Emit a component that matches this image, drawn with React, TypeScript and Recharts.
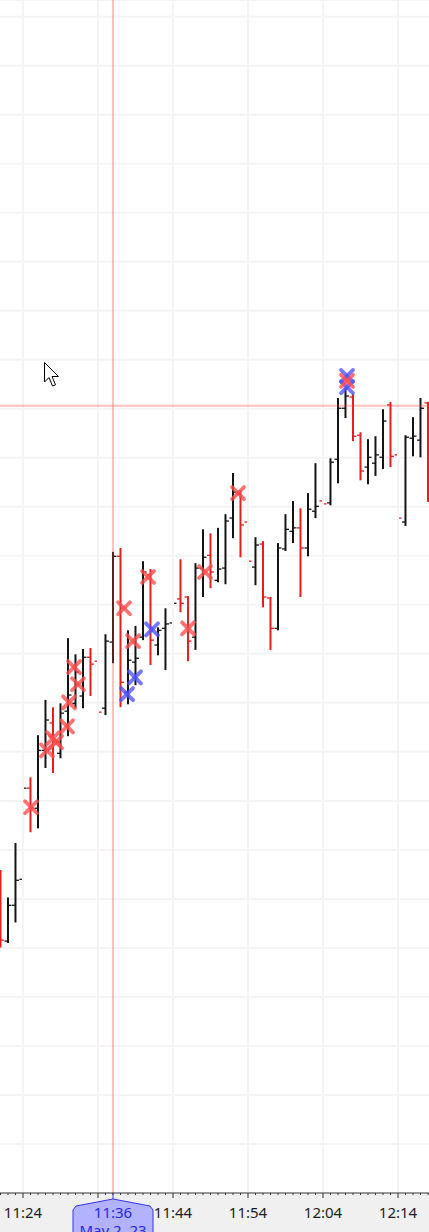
import React from 'react'
import { ComposedChart, Bar, Scatter, XAxis, YAxis, CartesianGrid, ReferenceLine } from 'recharts'

// minutes after 11:00, one bar per minute
const minutes = [
  21, 22, 23, 24, 25, 26, 27, 28, 29, 30, 31, 32, 33, 34, 35, 36, 37, 38, 39, 40,
  41, 42, 43, 44, 45, 46, 47, 48, 49, 50, 51, 52, 53, 54, 55, 56, 57, 58, 59, 60,
  61, 62, 63, 64, 65, 66, 67, 68, 69, 70, 71, 72, 73, 74, 75, 76, 77, 78,
]

const opens = [
  4156.48, 4155.14, 4155.87, 4156.4, 4158.26, 4157.85, 4159.03, 4159.59, 4158.97, 4159.83,
  4159.99, 4160.14, 4160.93, 4160.85, 4159.89, 4161.24, 4162.99, 4160.22, 4160.83, 4161.34,
  4162.61, 4161.18, 4161.52, 4161.63, 4162.12, 4162.16, 4161.34, 4162.75, 4163.01, 4162.5,
  4162.75, 4163.77, 4164.26, 4163.69, 4162.77, 4163.24, 4162.14, 4161.52, 4163.14, 4163.5,
  4163.57, 4163.16, 4163.91, 4164.12, 4164.08, 4164.97, 4166.01, 4166.24, 4165.46, 4164.81,
  4164.89, 4165.01, 4166.08, 4165.06, 4163.69, 4165.4, 4165.36, 4166.12,
]
const highs = [
  4156.59, 4156.03, 4157.14, 4158.54, 4158.48, 4159.34, 4160.06, 4159.91, 4159.99, 4161.32,
  4160.99, 4161.1, 4161.12, 4161.81, 4161.4, 4163.08, 4163.16, 4161.48, 4161.57, 4162.89,
  4162.73, 4161.54, 4161.93, 4162.28, 4162.93, 4162.18, 4162.85, 4163.54, 4163.46, 4163.57,
  4163.85, 4164.69, 4164.34, 4163.77, 4163.38, 4163.3, 4162.16, 4163.26, 4163.85, 4164.12,
  4163.97, 4164.28, 4164.89, 4165.06, 4164.99, 4166.22, 4166.42, 4166.3, 4165.52, 4165.38,
  4165.44, 4165.99, 4166.14, 4165.12, 4165.46, 4165.83, 4166.22, 4166.14,
]
const lows = [
  4155.01, 4155.1, 4155.52, 4156.38, 4157.36, 4157.44, 4158.67, 4158.57, 4158.87, 4159.32,
  4159.89, 4159.89, 4160.14, 4159.71, 4159.75, 4160.81, 4159.91, 4159.97, 4160.36, 4161.28,
  4160.77, 4160.97, 4160.67, 4161.01, 4161.85, 4160.85, 4161.08, 4162.16, 4162.34, 4162.46,
  4162.42, 4163.36, 4162.97, 4162.73, 4162.4, 4161.95, 4161.08, 4161.48, 4163.1, 4163.26,
  4162.16, 4162.99, 4163.77, 4163.85, 4164.03, 4164.48, 4165.81, 4165.34, 4164.54, 4164.46,
  4164.63, 4164.77, 4164.81, 4163.42, 4163.61, 4165.03, 4165.01, 4164.1,
]
const closes = [
  4155.16, 4155.87, 4156.38, 4158.26, 4157.85, 4159.03, 4159.65, 4159.24, 4159.79, 4160.16,
  4160.63, 4160.93, 4160.79, 4159.81, 4161.26, 4162.99, 4160.42, 4160.87, 4160.91, 4162.67,
  4161.28, 4161.48, 4161.61, 4162.03, 4162.03, 4161.26, 4162.75, 4162.97, 4162.67, 4162.73,
  4163.71, 4164.3, 4163.63, 4162.89, 4163.22, 4162.16, 4161.52, 4163.16, 4163.54, 4163.57,
  4163.16, 4163.95, 4164.01, 4164.06, 4164.91, 4166.01, 4166.26, 4165.44, 4164.73, 4165.01,
  4165.06, 4165.75, 4165.03, 4163.77, 4165.42, 4165.44, 4166.01, 4165.16,
]

// trade markers (time in minutes, price)
const sellTimes = [25.07, 27.2, 28.0, 28.4, 29.87, 30.13, 30.8, 31.33, 37.47, 38.67, 40.67, 46.0, 48.27, 52.67, 67.2]
const sellPrices = [4157.87, 4159.03, 4159.28, 4159.2, 4159.52, 4160.01, 4160.73, 4160.38, 4161.93, 4161.26, 4162.57, 4161.52, 4162.67, 4164.28, 4166.57]
const buyTimes = [37.87, 38.93, 41.2, 67.2, 67.2]
const buyPrices = [4160.18, 4160.52, 4161.5, 4166.67, 4166.44]

const majorTicks = [24, 34, 44, 54, 64, 74]
const priceTicks = [
  4150, 4151, 4152, 4153, 4154, 4155, 4156, 4157, 4158, 4159, 4160, 4161, 4162,
  4163, 4164, 4165, 4166, 4167, 4168, 4169, 4170, 4171, 4172, 4173, 4174,
]
const cursorTime = 36
const cursorPrice = 4166.06
const cursorDate = 'May 2, 23'

const bars = minutes.map((t, i) => ({
  t,
  open: opens[i],
  high: highs[i],
  low: lows[i],
  close: closes[i],
}))
const sells = sellTimes.map((t, i) => ({ t, price: sellPrices[i] }))
const buys = buyTimes.map((t, i) => ({ t, price: buyPrices[i] }))

const FONT = '"Noto Sans", "Open Sans", sans-serif'

function fmtTime(m: number) {
  const h = 11 + Math.floor(m / 60)
  const mm = m % 60
  return `${h}:${String(mm).padStart(2, '0')}`
}

function OhlcBar(props: any) {
  const { x, y, width, height, payload } = props
  if (!payload) return null
  const top = Math.min(y, y + height)
  const h = Math.abs(height)
  const { open, high, low, close } = payload
  const cx = x + width / 2
  const toY = (v: number) => top + ((high - v) / (high - low)) * h
  const color = close >= open ? '#141414' : '#ec1c1c'
  const yo = toY(open)
  const yc = toY(close)
  return (
    <g>
      <line x1={cx} x2={cx} y1={top} y2={top + h} stroke={color} strokeWidth={2} />
      <line x1={cx - 3.5} x2={cx} y1={yo} y2={yo} stroke={color} strokeWidth={1.3} />
      <line x1={cx} x2={cx + 3.5} y1={yc} y2={yc} stroke={color} strokeWidth={1.3} />
    </g>
  )
}

function makeCross(color: string) {
  return (props: any) => {
    const { cx, cy } = props
    const s = 6
    return (
      <g stroke={color} strokeWidth={3.8} strokeLinecap="round">
        <line x1={cx - s} y1={cy - s} x2={cx + s} y2={cy + s} />
        <line x1={cx - s} y1={cy + s} x2={cx + s} y2={cy - s} />
      </g>
    )
  }
}

function TimeTick(props: any) {
  const { x, y, payload } = props
  const v = payload.value
  const major = majorTicks.includes(v)
  return (
    <g>
      <line x1={x} x2={x} y1={y} y2={y + (major ? 5 : 2)} stroke="#333" strokeWidth={1} />
      {major && v !== 34 && (
        <text x={x} y={y + 25} textAnchor="middle" fontSize={15} fontFamily={FONT} fill="#1e1e1e">
          {fmtTime(v)}
        </text>
      )}
    </g>
  )
}

function CrossLabel(props: any) {
  const vb = props.viewBox
  if (!vb) return null
  const cx = vb.x
  const base = vb.y + vb.height
  const pts = [
    [cx - 40, base + 50],
    [cx - 40, base + 17],
    [cx - 37, base + 13],
    [cx, base + 6],
    [cx + 37, base + 13],
    [cx + 40, base + 17],
    [cx + 40, base + 50],
  ]
    .map((p) => p.join(','))
    .join(' ')
  return (
    <g>
      <line x1={cx} x2={cx} y1={base} y2={base + 6} stroke="#3434f0" strokeWidth={1} />
      <polygon points={pts} fill="#b2b2ff" stroke="#3434f0" strokeWidth={1} />
      <text x={cx} y={base + 25} textAnchor="middle" fontSize={15} fontFamily={FONT} fill="#2828e8">
        {fmtTime(cursorTime)}
      </text>
      <text x={cx} y={base + 43} textAnchor="middle" fontSize={15} fontFamily={FONT} fill="#2828e8">
        {cursorDate}
      </text>
    </g>
  )
}

export default function App() {
  return (
    <div style={{ position: 'absolute', left: 0, top: 0, width: 429, height: 1232, background: '#f0f0f0', overflow: 'hidden' }}>
      <ComposedChart width={429} height={1232} data={bars} margin={{ top: 0, right: 0, left: 0, bottom: 0 }}>
        <CartesianGrid fill="#ffffff" stroke="#f4f4f4" strokeWidth={2} vertical={false} />
        <XAxis
          dataKey="t"
          type="number"
          domain={[20.933, 78.133]}
          allowDataOverflow
          ticks={minutes}
          interval={0}
          tick={<TimeTick />}
          tickLine={false}
          tickSize={0}
          tickMargin={0}
          axisLine={{ stroke: '#3a3a3a' }}
          height={39}
        />
        <YAxis type="number" hide domain={[4150, 4174.34]} ticks={priceTicks} allowDataOverflow />
        {majorTicks.map((m) => (
          <ReferenceLine key={m} x={m} stroke="#f4f4f4" strokeWidth={2} />
        ))}
        <ReferenceLine y={cursorPrice} stroke="rgba(255,60,60,0.32)" strokeWidth={2} />
        <ReferenceLine x={cursorTime} stroke="rgba(255,60,60,0.32)" strokeWidth={2} label={<CrossLabel />} />
        <Bar
          dataKey={(d: any) => [d.low, d.high]}
          barSize={7}
          shape={<OhlcBar />}
          isAnimationActive={false}
        />
        <Scatter data={buys} dataKey="price" shape={makeCross('rgba(80,80,255,0.78)')} isAnimationActive={false} />
        <Scatter data={sells} dataKey="price" shape={makeCross('rgba(255,75,75,0.78)')} isAnimationActive={false} />
      </ComposedChart>
      <svg style={{ position: 'absolute', left: 44, top: 362 }} width={20} height={28}>
        <path
          d="M0.5,0.5 L0.5,20 L5,15.5 L8.5,24 L11.5,22.8 L8,14.5 L14.5,14.5 Z"
          fill="#ffffff"
          stroke="#000000"
          strokeWidth={1}
        />
      </svg>
    </div>
  )
}
